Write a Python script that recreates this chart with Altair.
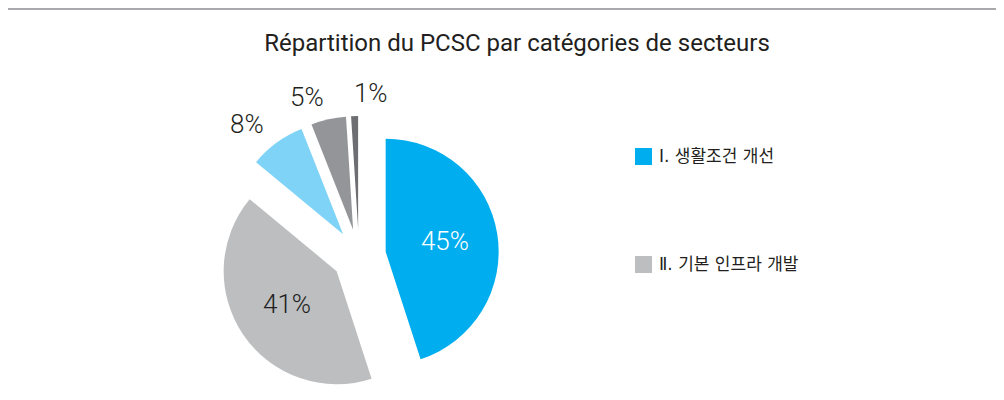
import altair as alt
import pandas as pd

# ---- data ----
categories = ["Ⅰ. 생활조건 개선", "Ⅱ. 기본 인프라 개발", "Ⅲ.", "Ⅳ.", "Ⅴ."]
shares = [45, 41, 8, 5, 1]
labels = ["45%", "41%", "8%", "5%", "1%"]
colors = ["#00AEEF", "#BCBEC0", "#7FD3F7", "#939598", "#6D6E71"]
label_colors = ["#FFFFFF", "#231F20", "#231F20", "#231F20", "#231F20"]
legend_items = categories[:2]
title_text = "Répartition du PCSC par catégories de secteurs"

# ---- layout ----
W, H = 988, 384
CX, CY = 351, 248
EXPLODE = 27
R = 113
IN_R = 87
OUT_R = 162

df = pd.DataFrame({
    "cat": categories,
    "share": shares,
    "label": labels,
    "lcolor": label_colors,
    "order": list(range(len(categories))),
})

base = (
    alt.Chart(df)
    .transform_joinaggregate(total="sum(share)")
    .transform_window(cum="sum(share)", sort=[alt.SortField("order")], frame=[None, 0])
    .transform_calculate(
        t1="datum.cum / datum.total * 2 * PI",
        t0="(datum.cum - datum.share) / datum.total * 2 * PI",
    )
    .transform_calculate(mid="(datum.t0 + datum.t1) / 2")
    .transform_calculate(
        px=f"{CX} + {EXPLODE} * sin(datum.mid)",
        py=f"{CY} - {EXPLODE} * cos(datum.mid)",
        inside="datum.share >= 20",
    )
    .transform_calculate(lr=f"datum.inside ? {IN_R} : {OUT_R}")
    .transform_calculate(
        lx=f"{CX} + datum.lr * sin(datum.mid)",
        ly=f"{CY} - datum.lr * cos(datum.mid)",
        side="datum.inside ? 'c' : (sin(datum.mid) < -0.1 ? 'l' : 'r')",
    )
)

color_scale = alt.Scale(domain=categories, range=colors)

arcs = base.mark_arc(radius=R, stroke=None).encode(
    x=alt.X("px:Q", scale=None),
    y=alt.Y("py:Q", scale=None),
    theta=alt.Theta("t0:Q", scale=None),
    theta2="t1:Q",
    color=alt.Color(
        "cat:N",
        scale=color_scale,
        legend=alt.Legend(
            values=legend_items,
            title=None,
            orient="none",
            legendX=627,
            legendY=140,
            symbolType="square",
            symbolSize=289,
            symbolStrokeWidth=0,
            symbolOpacity=1,
            labelFont="DejaVu Sans, Noto Sans CJK KR",
            labelFontSize=17,
            labelColor="#231F20",
            labelOffset=7,
            rowPadding=90,
        ),
    ),
    order=alt.Order("order:Q"),
)

def label_layer(side, align):
    return base.transform_filter(f"datum.side == '{side}'").mark_text(
        font="Roboto", fontSize=26, fontWeight=300, baseline="middle", align=align
    ).encode(
        x=alt.X("lx:Q", scale=None),
        y=alt.Y("ly:Q", scale=None),
        text="label:N",
        color=alt.Color("lcolor:N", scale=None),
    )

texts_in = label_layer("c", "center")
texts_left = label_layer("l", "right")
texts_right = label_layer("r", "left")

title_df = pd.DataFrame({"t": [title_text]})
title = alt.Chart(title_df).mark_text(
    font="Roboto", fontSize=24, color="#231F20", align="center", baseline="middle"
).encode(x=alt.value(509), y=alt.value(36), text="t:N")

top_rule = alt.Chart(title_df).mark_rule(color="#A7A9AC", strokeWidth=2).encode(
    x=alt.value(0), x2=alt.value(991), y=alt.value(1)
)

chart = (
    alt.layer(top_rule, arcs, texts_in, texts_left, texts_right, title)
    .properties(width=W, height=H, autosize=alt.AutoSizeParams(type="none"), padding=0)
    .configure_view(stroke=None)
)

chart.save("out.html", embed_options={"renderer": "svg", "actions": False})
